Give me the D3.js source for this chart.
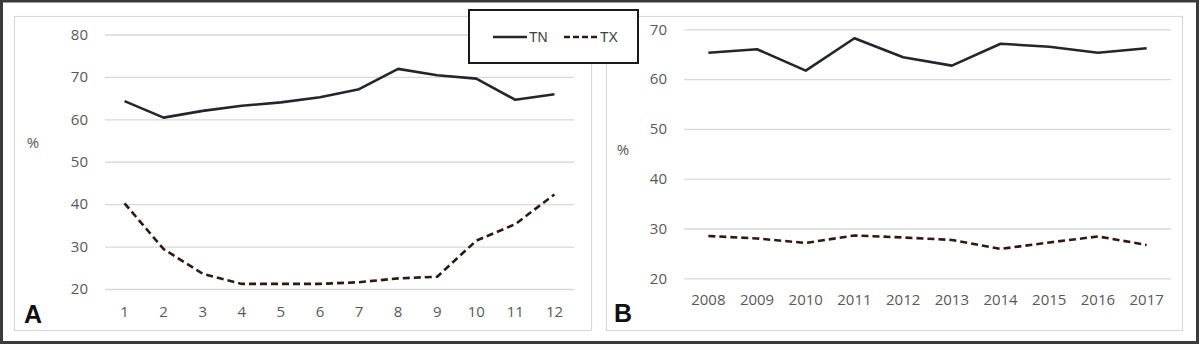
<!DOCTYPE html>
<html><head><meta charset="utf-8">
<script src="https://cdn.jsdelivr.net/npm/d3@7"></script>
<style>
html,body{margin:0;padding:0;background:#fff;}
svg{display:block;}
.tick text{font-family:"Open Sans",sans-serif;font-size:15px;fill:#595959;}
</style></head>
<body>
<svg id="c" width="1200" height="349"></svg>
<script>
// ---- data ----
const monthCats = [1,2,3,4,5,6,7,8,9,10,11,12];
const monthTN = [64.3,60.4,62.0,63.2,64.0,65.2,67.1,71.9,70.4,69.6,64.6,65.9];
const monthTX = [40.2,29.4,23.6,21.2,21.2,21.2,21.6,22.5,22.9,31.4,35.3,42.3];
const yearCats = [2008,2009,2010,2011,2012,2013,2014,2015,2016,2017];
const yearTN = [65.3,66.0,61.7,68.2,64.4,62.7,67.1,66.5,65.3,66.2];
const yearTX = [28.5,28.0,27.1,28.6,28.2,27.7,25.9,27.2,28.4,26.7];
const ticksA = [20,30,40,50,60,70,80];
const ticksB = [20,30,40,50,60,70];
const seriesNames = ["TN","TX"];

const svg = d3.select("#c");
const TNcolor = "#23262d", TXcolor = "#2e1a10";

// outer frame
svg.append("rect").attr("x",1.5).attr("y",1).attr("width",1196).attr("height",341.5)
  .attr("fill","#fff").attr("stroke","#3a3a3a").attr("stroke-width",3);

function panel(cfg){
  const g = svg.append("g");
  g.append("rect").attr("x",cfg.box[0]+0.5).attr("y",cfg.box[1]+0.5)
    .attr("width",cfg.box[2]-cfg.box[0]).attr("height",cfg.box[3]-cfg.box[1])
    .attr("fill","#fff").attr("stroke","#d9d9d9").attr("stroke-width",1.2);
  const x = d3.scaleBand().domain(cfg.cats).range([cfg.x0,cfg.x1]).padding(0);
  const y = d3.scaleLinear().domain(cfg.ydom).range([cfg.y0,cfg.y1]);
  const ya = g.append("g").attr("transform",`translate(${cfg.x0},0)`)
    .call(d3.axisLeft(y).tickValues(cfg.ticks).tickSize(-(cfg.x1-cfg.x0)).tickPadding(cfg.ypad));
  ya.select(".domain").remove();
  ya.selectAll(".tick line").attr("stroke","#d9d9d9").attr("stroke-width",1.3);
  const xa = g.append("g").attr("transform",`translate(0,${cfg.y0})`)
    .call(d3.axisBottom(x).tickSize(0).tickPadding(cfg.xpad));
  xa.select(".domain").remove();
  const cx = d => x(d)+x.bandwidth()/2;
  const line = vals => d3.line().x((d,i)=>cx(cfg.cats[i])).y(d=>y(d))(vals);
  g.append("path").attr("d",line(cfg.tx)).attr("fill","none").attr("stroke",TXcolor)
    .attr("stroke-width",2.6).attr("stroke-dasharray","7,4");
  g.append("path").attr("d",line(cfg.tn)).attr("fill","none").attr("stroke",TNcolor)
    .attr("stroke-width",2.6).attr("stroke-linejoin","round");
  g.append("text").attr("x",cfg.pct[0]).attr("y",cfg.pct[1]).attr("text-anchor","middle")
    .attr("font-family","Open Sans, sans-serif").attr("font-size",15).attr("fill","#595959").text("%");
  g.append("text").attr("x",cfg.lab[0]).attr("y",cfg.lab[1])
    .attr("font-family","Liberation Sans, Arial, sans-serif").attr("font-weight","bold")
    .attr("font-size",25).attr("fill","#111").text(cfg.label);
}

panel({box:[14,16,591,330], cats:monthCats, tn:monthTN, tx:monthTX, ydom:[20,80], ticks:ticksA,
  x0:105, x1:574, y0:289, y1:34.5, ypad:17, xpad:17, pct:[33,148], lab:[24,323], label:"A"});
panel({box:[606,16,1182,330], cats:yearCats, tn:yearTN, tx:yearTX, ydom:[20,70], ticks:ticksB,
  x0:684, x1:1171, y0:278.3, y1:29.3, ypad:17, xpad:16, pct:[623,155], lab:[614,322], label:"B"});

// legend
const lg = svg.append("g");
lg.append("rect").attr("x",469).attr("y",10).attr("width",169).attr("height",53)
  .attr("fill","#fff").attr("stroke","#1a1a1a").attr("stroke-width",2);
const legX = d3.scalePoint().domain(seriesNames).range([493,564]);
seriesNames.forEach(s=>{
  const x0 = legX(s);
  lg.append("line").attr("x1",x0).attr("x2",x0+34).attr("y1",37).attr("y2",37)
    .attr("stroke", s==="TN"?TNcolor:TXcolor).attr("stroke-width",2.6)
    .attr("stroke-dasharray", s==="TN"?null:"6,3");
  lg.append("text").attr("x",x0+36).attr("y",42).attr("font-family","Liberation Sans, Arial, sans-serif")
    .attr("font-size",14).attr("fill","#404040").text(s);
});
</script>
</body></html>
